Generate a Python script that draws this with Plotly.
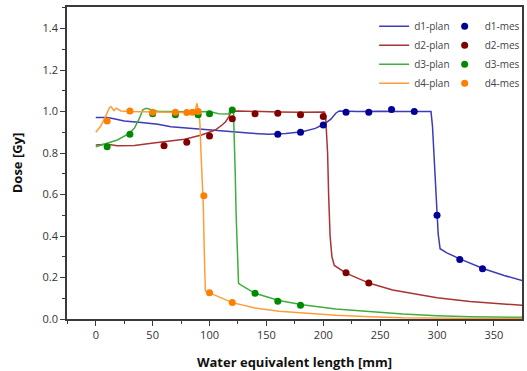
import plotly.graph_objects as go

# ---- data ----
d1_plan_x = [0, 10, 16, 25, 40, 54.6, 66, 78, 93, 108, 122.6, 137, 152, 167, 181.6, 193, 200.8, 206.7, 211, 214, 230, 250, 270, 290, 294.7, 296, 297.7, 299.8, 301, 302.7, 308.6, 320, 341, 359, 377]
d1_plan_y = [0.971, 0.971, 0.965, 0.955, 0.947, 0.939, 0.927, 0.921, 0.916, 0.906, 0.902, 0.895, 0.89, 0.894, 0.903, 0.919, 0.94, 0.963, 0.992, 1.003, 1.0, 1.002, 1.0, 1.0, 1.0, 0.93, 0.734, 0.54, 0.41, 0.339, 0.319, 0.29, 0.242, 0.21, 0.182]

d2_plan_x = [0, 10, 19, 34, 49, 63.5, 78, 93, 99, 105, 111, 114, 117, 119, 125, 140, 160, 180, 195, 201, 202, 203.8, 204.7, 206, 207.6, 209.7, 220, 240.7, 261, 282, 300, 329, 359, 377]
d2_plan_y = [0.839, 0.842, 0.835, 0.836, 0.847, 0.855, 0.866, 0.887, 0.898, 0.911, 0.935, 0.95, 0.976, 1.0, 1.003, 1.0, 0.998, 0.997, 1.0, 0.998, 0.98, 0.8, 0.6, 0.4, 0.3, 0.258, 0.221, 0.172, 0.14, 0.118, 0.102, 0.084, 0.073, 0.065]

d3_plan_x = [0, 10, 19, 29.5, 34, 38.4, 41.3, 44.3, 55, 70, 85, 100, 108, 116.7, 119, 121, 121.7, 122.6, 123.4, 124.3, 125.5, 128.5, 140, 161, 181.6, 211, 241, 270, 300, 329, 377]
d3_plan_y = [0.83, 0.847, 0.863, 0.895, 0.92, 0.968, 1.008, 1.016, 1.0, 1.0, 0.998, 1.0, 0.99, 0.988, 1.016, 1.008, 0.9, 0.7, 0.5, 0.3, 0.172, 0.161, 0.124, 0.089, 0.069, 0.048, 0.035, 0.024, 0.016, 0.011, 0.008]

d4_plan_x = [0, 4.4, 8, 11.8, 13.3, 16, 18, 22, 30, 45, 60, 75, 87, 89, 90.5, 91.5, 92.5, 93.5, 94.5, 95.5, 96.3, 97, 100, 120, 140, 161, 181, 211, 241, 270, 329, 377]
d4_plan_y = [0.90, 0.93, 0.97, 1.016, 1.024, 1.005, 1.016, 1.003, 1.0, 0.998, 0.997, 0.996, 0.998, 1.04, 0.99, 0.95, 0.8, 0.65, 0.55, 0.3, 0.14, 0.132, 0.126, 0.079, 0.053, 0.037, 0.029, 0.018, 0.011, 0.006, 0.003, 0.002]

d1_mes_x = [160, 180, 200, 220, 240, 260, 280, 300, 320, 340]
d1_mes_y = [0.89, 0.90, 0.935, 0.997, 0.997, 1.01, 1.0, 0.5, 0.287, 0.242]

d2_mes_x = [60, 80, 100, 120, 140, 160, 180, 200, 220, 240]
d2_mes_y = [0.835, 0.852, 0.882, 0.965, 0.989, 0.992, 0.984, 0.976, 0.223, 0.174]

d3_mes_x = [10, 30, 50, 70, 90, 100, 120, 140, 160, 180]
d3_mes_y = [0.83, 0.89, 0.99, 0.984, 0.984, 0.99, 1.008, 0.124, 0.085, 0.066]

d4_mes_x = [10, 30, 50, 70, 80, 85, 90, 95, 100, 120]
d4_mes_y = [0.955, 1.003, 0.997, 0.997, 0.996, 0.997, 1.0, 0.594, 0.127, 0.079]

names = ["d1", "d2", "d3", "d4"]
line_colors = ["#3c3cb4", "#a83434", "#3fae3f", "#ff9d3c"]
mark_colors = ["#000096", "#800000", "#008a00", "#ff8000"]

plans = [(d1_plan_x, d1_plan_y), (d2_plan_x, d2_plan_y), (d3_plan_x, d3_plan_y), (d4_plan_x, d4_plan_y)]
mess = [(d1_mes_x, d1_mes_y), (d2_mes_x, d2_mes_y), (d3_mes_x, d3_mes_y), (d4_mes_x, d4_mes_y)]

FONT = "Open Sans"
fig = go.Figure()

for n, (px, py), lc in zip(names, plans, line_colors):
    fig.add_trace(go.Scatter(x=px, y=py, mode="lines", name=f"{n}-plan",
                             line=dict(color=lc, width=1.5), legend="legend"))

for n, (mx, my), mc in zip(names, mess, mark_colors):
    fig.add_trace(go.Scatter(x=mx, y=my, mode="markers", name=f"{n}-mes",
                             marker=dict(color=mc, size=7), legend="legend2"))

axis_common = dict(
    showline=True, linecolor="#3a3a3a", linewidth=1.5, mirror=True,
    ticks="outside", ticklen=5, tickwidth=1.2, tickcolor="#3a3a3a",
    showgrid=False, zeroline=False,
    tickfont=dict(family=FONT, size=11, color="#333333"),
)

fig.update_xaxes(
    range=[-25.3, 374.7], tick0=0, dtick=50,
    minor=dict(dtick=25, ticks="outside", ticklen=3, tickcolor="#3a3a3a", tickwidth=1.2),
    title=dict(text="<b>Water equivalent length [mm]</b>", font=dict(family=FONT, size=13, color="#111111"), standoff=17),
    **axis_common,
)
fig.update_yaxes(
    range=[0, 1.504], tick0=0, dtick=0.2, tickformat=".1f",
    minor=dict(dtick=0.1, ticks="outside", ticklen=3, tickcolor="#3a3a3a", tickwidth=1.2),
    title=dict(text="<b>Dose [Gy]</b>", font=dict(family=FONT, size=13, color="#111111"), standoff=17),
    **axis_common,
)

legend_common = dict(
    font=dict(family=FONT, size=10, color="#444444"),
    bgcolor="rgba(0,0,0,0)", borderwidth=0,
    xanchor="left", yanchor="top", tracegroupgap=0,
)
fig.update_layout(
    width=527, height=371,
    margin=dict(l=67, r=2, t=7, b=52),
    paper_bgcolor="white", plot_bgcolor="white",
    legend=dict(x=0.675, y=0.985, **legend_common),
    legend2=dict(x=0.83, y=0.985, **legend_common),
)

fig.write_html("out.html")
